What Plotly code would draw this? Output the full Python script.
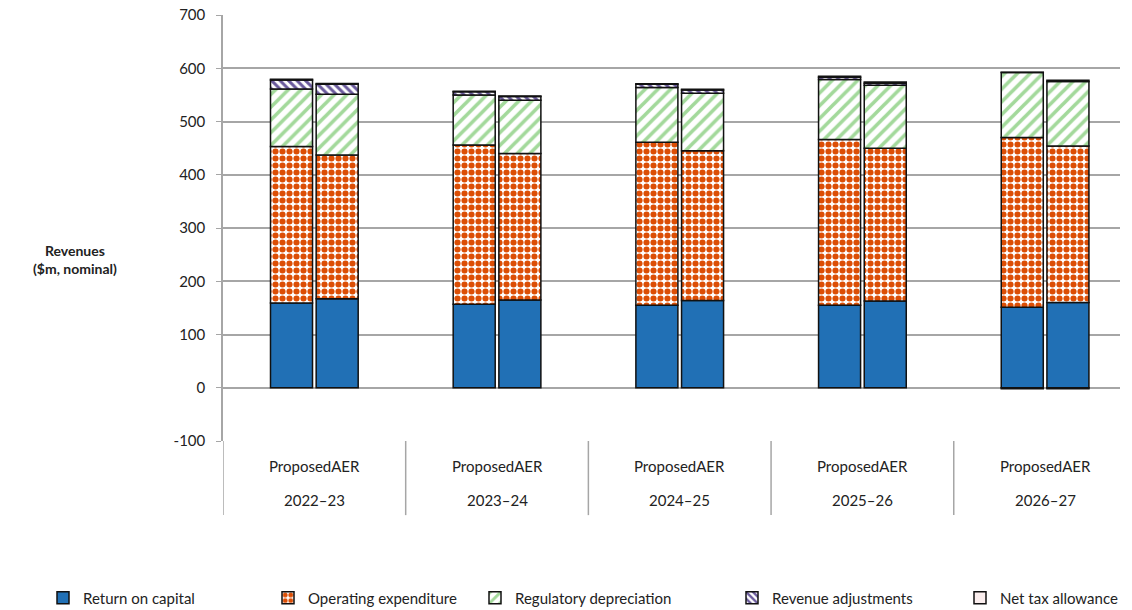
import plotly.graph_objects as go

# Revenue building blocks, $m nominal
years = ["2022–23", "2023–24", "2024–25", "2025–26", "2026–27"]
group_label = "ProposedAER"

return_on_capital_proposed = [159, 157, 155, 155, 151]
return_on_capital_aer = [167, 165, 164, 163, 160]

operating_expenditure_proposed = [294, 299, 306, 311, 319]
operating_expenditure_aer = [270, 275, 281, 287, 294]

regulatory_depreciation_proposed = [108, 94, 103, 113, 122]
regulatory_depreciation_aer = [114, 100, 108, 118, 121]

revenue_adjustments_proposed = [17, 6, 6, 4, -2]
revenue_adjustments_aer = [19, 7, 6, 4, -2]

net_tax_allowance_proposed = [1.5, 1, 1, 2, 0.5]
net_tax_allowance_aer = [1.5, 1, 1.5, 2, 2.5]

y_ticks = [-100, 0, 100, 200, 300, 400, 500, 600, 700]

FONT = "Lato, 'Open Sans', sans-serif"
GRID = "#a6a6a6"
TEXT = "#222222"

# plot area geometry in pixels (used to place the legend entries)
FIG_W, FIG_H = 1132, 610
M_L, M_R, M_T, M_B = 223, 12, 15, 169
PLOT_W = FIG_W - M_L - M_R

# x positions: each year is one unit wide, the two bars sit either side of centre
offset = 0.125
bar_width = 0.23
x_prop = [i - offset for i in range(len(years))]
x_aer = [i + offset for i in range(len(years))]

series = [
    ("Return on capital", return_on_capital_proposed, return_on_capital_aer,
     dict(color="#2170b5")),
    ("Operating expenditure", operating_expenditure_proposed, operating_expenditure_aer,
     dict(color="white", pattern=dict(shape=".", fgcolor="#dc4e05", bgcolor="white",
                                      size=7, solidity=0.6, fillmode="replace"))),
    ("Regulatory depreciation", regulatory_depreciation_proposed, regulatory_depreciation_aer,
     dict(color="white", pattern=dict(shape="/", fgcolor="#a3d99b", bgcolor="white",
                                      size=9, solidity=0.4, fillmode="replace"))),
    ("Revenue adjustments", revenue_adjustments_proposed, revenue_adjustments_aer,
     dict(color="white", pattern=dict(shape="\\", fgcolor="#6a5a9c", bgcolor="white",
                                      size=6, solidity=0.5, fillmode="replace"))),
    ("Net tax allowance", net_tax_allowance_proposed, net_tax_allowance_aer,
     dict(color="#fbeeee")),
]

# left edge (px) of each legend entry along the bottom row, and row centre
legend_left_px = [43, 268, 475, 732, 960]
legend_mid_px = 598

fig = go.Figure()
legend_layouts = {}
for k, (name, prop_vals, aer_vals, marker) in enumerate(series):
    legend_id = "legend" if k == 0 else f"legend{k + 1}"
    for xs, vals, show in ((x_prop, prop_vals, True), (x_aer, aer_vals, False)):
        fig.add_trace(go.Bar(
            x=xs, y=vals, width=bar_width, name=name, legendgroup=name,
            showlegend=show, legend=legend_id,
            marker=dict(**marker, line=dict(color="#111111", width=1.5)),
            hovertemplate=name + ": %{y}<extra></extra>",
        ))
    legend_layouts[legend_id] = dict(
        orientation="h", xref="paper", x=(legend_left_px[k] - M_L) / PLOT_W,
        xanchor="left", yref="container", y=(FIG_H - legend_mid_px) / FIG_H,
        yanchor="middle", bgcolor="rgba(0,0,0,0)", itemclick=False,
        font=dict(size=15, color=TEXT, family=FONT),
    )

# category box under the plot: separators and two-row labels
shapes = []
for i in range(len(years)):
    shapes.append(dict(type="line", xref="x", yref="paper", x0=i - 0.5, x1=i - 0.5,
                       y0=0, y1=-0.174, line=dict(color=GRID, width=1.5)))

annotations = []
for i, yr in enumerate(years):
    annotations.append(dict(x=i, y=-0.059, xref="x", yref="paper", text=group_label,
                            showarrow=False, font=dict(size=15, color=TEXT, family=FONT),
                            xanchor="center", yanchor="middle"))
    annotations.append(dict(x=i, y=-0.139, xref="x", yref="paper", text=yr,
                            showarrow=False, font=dict(size=15, color=TEXT, family=FONT),
                            xanchor="center", yanchor="middle"))

annotations.append(dict(x=-0.165, y=0.425, xref="paper", yref="paper",
                        text="<b>Revenues<br>($m, nominal)</b>", showarrow=False,
                        xanchor="center", yanchor="middle", align="center",
                        font=dict(size=14, color=TEXT, family=FONT)))

fig.update_layout(
    width=FIG_W, height=FIG_H,
    margin=dict(l=M_L, r=M_R, t=M_T, b=M_B, autoexpand=False),
    paper_bgcolor="white", plot_bgcolor="white",
    barmode="relative",
    font=dict(family=FONT, color=TEXT, size=15),
    xaxis=dict(range=[-0.5, 4.41], showticklabels=False, showgrid=False,
               zeroline=False, showline=False, fixedrange=True, automargin=False),
    yaxis=dict(range=[-100, 700], tickvals=y_ticks, ticktext=[str(v) for v in y_ticks],
               showgrid=True, gridcolor=GRID, automargin=False,
               gridwidth=1.5, zeroline=False, showline=True, linecolor=GRID,
               linewidth=1.5, ticks="outside", ticklen=5, tickcolor=GRID,
               ticklabelstandoff=8, tickfont=dict(size=15, color=TEXT)),
    shapes=shapes,
    annotations=annotations,
    **legend_layouts,
)

fig.write_html("out.html")
